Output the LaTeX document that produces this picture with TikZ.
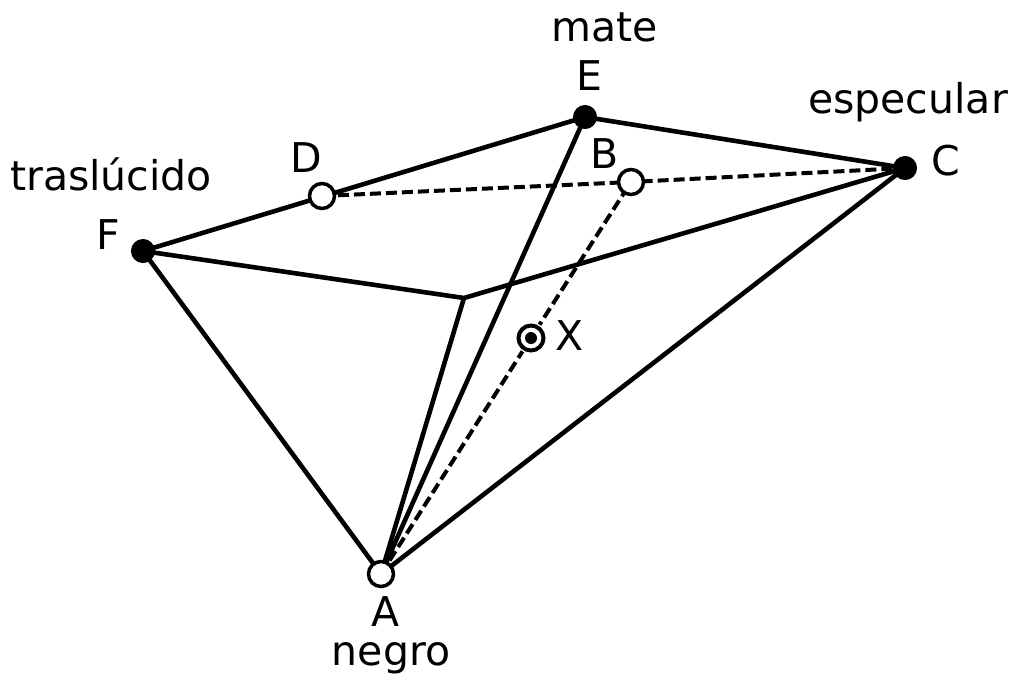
\documentclass[tikz,border=0pt]{standalone}
\usepackage{fontspec}
\setmainfont{DejaVu Sans}
\tikzset{
  solidpt/.style={circle,draw=black,fill=black,line width=1pt,minimum size=23pt,inner sep=0pt},
  openpt/.style={circle,draw=black,fill=white,line width=3.5pt,minimum size=25pt,inner sep=0pt},
  edge/.style={line width=4.6pt,black},
  hidden/.style={line width=4pt,black,dash pattern=on 11pt off 5pt},
  lbl/.style={inner sep=0pt,font=\fontsize{41}{46}\selectfont,anchor=base}
}
\begin{document}
\begin{tikzpicture}[x=1pt,y=-1pt]
\useasboundingbox (0,0) rectangle (1014,675);
\coordinate (G) at (464,298);
\coordinate (Ap) at (381,574);
\coordinate (Bp) at (631,182);
\coordinate (Cp) at (905,168);
\coordinate (Dp) at (322,196);
\coordinate (Ep) at (585,117);
\coordinate (Fp) at (143,251);
\coordinate (Xp) at (531,338);
\draw[edge,line join=round] (Fp)--(Ep)--(Cp)--(G)--(Fp);
\draw[edge,line join=round] (Fp)--(Ap)--(Cp);
\draw[edge] (Ap)--(Ep);
\draw[edge] (Ap)--(G);
\draw[hidden] (Dp)--(Bp)--(Cp);
\draw[hidden] (Ap)--(Xp)--(Bp);
\node[solidpt] (E) at (Ep) {};
\node[solidpt] (C) at (Cp) {};
\node[solidpt] (F) at (Fp) {};
\node[openpt] (D) at (Dp) {};
\node[openpt] (B) at (Bp) {};
\node[openpt] (A) at (Ap) {};
\node[circle,draw=white,fill=white,minimum size=31pt,inner sep=0pt] (Xh) at (Xp) {};
\node[circle,draw=black,fill=white,line width=4pt,minimum size=25pt,inner sep=0pt] (X) at (Xp) {};
\node[circle,fill=black,minimum size=12pt,inner sep=0pt] (Xc) at (Xp) {};
\node[lbl] (lmate) at (605,41) {mate};
\node[lbl] (lE) at (589,90) {E};
\node[lbl] (lesp) at (908,113) {especular};
\node[lbl] (lC) at (946,175) {C};
\node[lbl] (lB) at (605,168) {B};
\node[lbl] (lD) at (306,172) {D};
\node[lbl] (ltras) at (111,190) {traslúcido};
\node[lbl] (lF) at (108,249) {F};
\node[lbl] (lX) at (570,350) {X};
\node[lbl] (lA) at (386,626) {A};
\node[lbl] (lneg) at (391,665) {negro};
\end{tikzpicture}
\end{document}
